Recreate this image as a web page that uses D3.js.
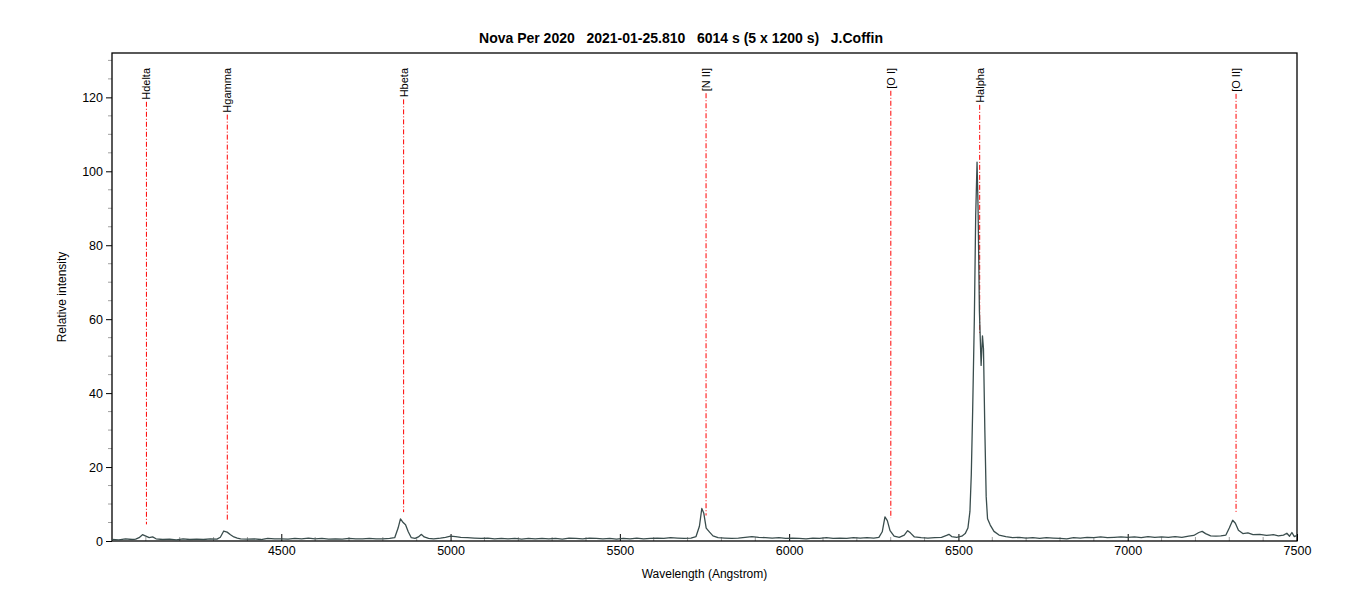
<!DOCTYPE html>
<html>
<head>
<meta charset="utf-8">
<script src="https://cdn.jsdelivr.net/npm/d3@7/dist/d3.min.js"></script>
<style>
  html, body { margin: 0; padding: 0; background: #fff; }
  svg { display: block; font-family: "Liberation Sans", Arial, sans-serif; }
</style>
</head>
<body>
<svg id="chart" width="1360" height="606"></svg>
<script>
// ---------------- data ----------------
const titleText = "Nova Per 2020   2021-01-25.810   6014 s (5 x 1200 s)   J.Coffin";
const xLabel = "Wavelength (Angstrom)";
const yLabel = "Relative intensity";

const xTicks = [4500, 5000, 5500, 6000, 6500, 7000, 7500];
const yTicks = [0, 20, 40, 60, 80, 100, 120];

const wavelength = [
  4000,4020,4040,4060,4070,4080,4090,4100,4110,4120,4130,4150,4170,4190,4210,4230,4250,4270,4290,4310,
  4320,4330,4340,4350,4360,4370,4380,4400,4420,4440,4460,4480,4500,4520,4540,4560,4580,4600,4620,4640,
  4660,4680,4700,4720,4740,4760,4780,4800,4820,4835,4845,4852,4860,4867,4875,4884,4895,4905,4914,4922,
  4935,4950,4970,4985,5000,5015,5030,5050,5070,5090,5110,5130,5150,5170,5190,5210,5230,5250,5270,5290,
  5310,5330,5350,5370,5390,5410,5430,5450,5470,5490,5510,5530,5550,5570,5590,5610,5630,5650,5670,5690,
  5710,5725,5735,5742,5748,5755,5765,5775,5790,5810,5830,5850,5870,5890,5910,5930,5950,5970,5990,6010,
  6030,6050,6070,6090,6110,6130,6150,6170,6190,6210,6230,6250,6265,6275,6283,6290,6298,6310,6325,6340,
  6350,6358,6370,6390,6410,6430,6450,6465,6472,6480,6495,6510,6520,6528,6534,6538,6542,6547,6551,6555,
  6558,6562,6567,6571,6574,6578,6582,6586,6594,6605,6620,6640,6660,6680,6700,6720,6740,6760,6780,6800,
  6820,6840,6860,6880,6900,6920,6940,6960,6980,7000,7020,7040,7060,7080,7100,7120,7140,7160,7180,7195,
  7210,7220,7230,7245,7260,7275,7290,7300,7310,7318,7327,7340,7355,7370,7390,7410,7430,7445,7460,7470,
  7478,7485,7492,7500
];
const intensity = [
  0.4,0.3,0.6,0.4,0.5,0.9,1.7,1.3,0.9,1.1,0.6,0.4,0.5,0.3,0.6,0.4,0.5,0.4,0.6,0.5,
  1.0,2.7,2.4,1.7,1.1,0.8,0.6,0.5,0.6,0.4,0.7,0.6,0.6,0.5,0.7,0.6,0.8,0.6,0.7,0.5,
  0.6,0.5,0.7,0.6,0.6,0.7,0.6,0.6,0.7,0.9,3.5,6.0,5.0,4.4,2.5,0.9,0.7,1.1,1.8,1.1,
  0.7,0.6,0.8,1.0,1.3,1.2,1.0,0.9,0.8,0.7,0.8,0.6,0.7,0.6,0.7,0.5,0.7,0.6,0.7,0.6,
  0.7,0.5,0.8,0.7,0.6,0.8,0.7,0.6,0.7,0.5,0.7,0.6,0.8,0.6,0.7,0.8,0.7,0.9,0.8,0.7,
  0.8,1.2,4.0,8.8,7.5,3.5,2.4,1.4,0.9,0.8,0.7,0.8,1.0,1.2,1.0,0.9,0.8,0.9,0.7,0.8,
  0.7,0.6,0.8,0.7,0.9,0.7,0.8,0.7,0.9,0.8,0.9,0.8,1.0,2.5,6.5,5.5,2.8,1.3,1.0,1.6,
  2.8,2.2,1.1,0.9,0.8,0.9,1.0,1.5,1.8,1.2,1.0,1.3,2.0,3.5,8,18,35,60,88,102.5,
  90,62,47.5,55.5,52,30,12,6,4.3,2.6,1.6,1.2,0.9,1.0,0.8,0.9,0.7,0.9,0.8,0.7,
  0.6,0.9,0.8,1.0,0.9,1.1,0.9,1.0,1.1,1.0,1.1,0.9,1.2,1.0,1.1,1.0,1.2,1.0,1.3,1.5,
  2.3,2.6,2.0,1.4,1.3,1.4,1.6,3.5,5.6,4.8,2.9,2.0,2.2,1.7,1.8,1.5,1.7,1.4,1.6,2.1,
  1.3,2.3,1.2,1.5
];

const lineNames = ["Hdelta", "Hgamma", "Hbeta", "[N II]", "[O I]", "Halpha", "[O II]"];
const lineWavelengths = [4101.7, 4340.5, 4861.3, 5754.6, 6300.3, 6562.8, 7320.0];
const lineEnds = [4.5, 5.4, 7.8, 6.9, 6.2, 56.1, 7.8];

// ---------------- layout ----------------
const svg = d3.select("#chart");
const pLeft = 112, pRight = 1297, pTop = 53, pBottom = 541;

const x = d3.scaleLinear().domain([4000, 7500]).range([pLeft, pRight]);
const y = d3.scaleLinear().domain([0, 132]).range([pBottom, pTop]);

// title
svg.append("text")
  .attr("x", 681).attr("y", 43)
  .attr("text-anchor", "middle")
  .attr("font-size", 14).attr("font-weight", "bold")
  .attr("fill", "#000")
  .style("white-space", "pre")
  .text(titleText);

// minor ticks
const g = svg.append("g");
g.append("g").selectAll("line")
  .data(d3.range(4100, 7500, 100).filter(v => v % 500 !== 0))
  .join("line")
  .attr("x1", d => x(d)).attr("x2", d => x(d))
  .attr("y1", pBottom).attr("y2", pBottom - 4)
  .attr("stroke", "#a0a0a0").attr("stroke-width", 1);

g.append("g").selectAll("line")
  .data(d3.range(5, 132, 5).filter(v => v % 20 !== 0))
  .join("line")
  .attr("x1", pLeft).attr("x2", pLeft - 4)
  .attr("y1", d => y(d)).attr("y2", d => y(d))
  .attr("stroke", "#a0a0a0").attr("stroke-width", 1);

// x axis
const xAxis = d3.axisBottom(x).tickValues(xTicks).tickSize(0).tickPadding(5)
  .tickFormat(d3.format("d"));
const xg = svg.append("g").attr("transform", `translate(0,${pBottom})`).call(xAxis);
xg.select(".domain").remove();
xg.selectAll("text").attr("font-size", 12.5).attr("fill", "#000")
  .attr("font-family", "Liberation Sans, Arial, sans-serif");
xg.selectAll(".tick").append("line")
  .attr("y1", 0).attr("y2", -7).attr("stroke", "#000");

// y axis
const yAxis = d3.axisLeft(y).tickValues(yTicks).tickSize(6).tickPadding(3)
  .tickFormat(d3.format("d"));
const yg = svg.append("g").attr("transform", `translate(${pLeft},0)`).call(yAxis);
yg.select(".domain").remove();
yg.selectAll("text").attr("font-size", 12.5).attr("fill", "#000")
  .attr("font-family", "Liberation Sans, Arial, sans-serif");
yg.selectAll(".tick line").attr("stroke", "#000");

// frame
svg.append("rect")
  .attr("x", pLeft).attr("y", pTop)
  .attr("width", pRight - pLeft).attr("height", pBottom - pTop)
  .attr("fill", "none").attr("stroke", "#000").attr("stroke-width", 1.3);

// axis titles
svg.append("text")
  .attr("x", (pLeft + pRight) / 2).attr("y", 578)
  .attr("text-anchor", "middle").attr("font-size", 12).attr("fill", "#000")
  .text(xLabel);
svg.append("text")
  .attr("transform", `translate(66,${(pTop + pBottom) / 2}) rotate(-90)`)
  .attr("text-anchor", "middle").attr("font-size", 12).attr("fill", "#000")
  .text(yLabel);

// identification lines
const labelTop = 68;
const ids = lineNames.map((n, i) => ({ name: n, wl: lineWavelengths[i], end: lineEnds[i] }));
const idg = svg.append("g");
ids.forEach(d => {
  const t = idg.append("text")
    .attr("transform", `translate(${x(d.wl)},${labelTop}) rotate(-90)`)
    .attr("text-anchor", "end")
    .attr("dominant-baseline", "central")
    .attr("font-size", 11).attr("fill", "#000")
    .text(d.name);
  const len = t.node().getComputedTextLength();
  idg.append("line")
    .attr("x1", x(d.wl)).attr("x2", x(d.wl))
    .attr("y1", labelTop + len + 2).attr("y2", y(d.end))
    .attr("stroke", "#ff0000").attr("stroke-width", 1)
    .attr("stroke-dasharray", "5,2,1,2");
});

// spectrum
const pts = wavelength.map((w, i) => [w, intensity[i]]);
svg.append("path")
  .datum(pts)
  .attr("fill", "none")
  .attr("stroke", "#3a4d4d")
  .attr("stroke-width", 1.3)
  .attr("stroke-linejoin", "round")
  .attr("d", d3.line().x(d => x(d[0])).y(d => y(d[1])));
</script>
</body>
</html>
